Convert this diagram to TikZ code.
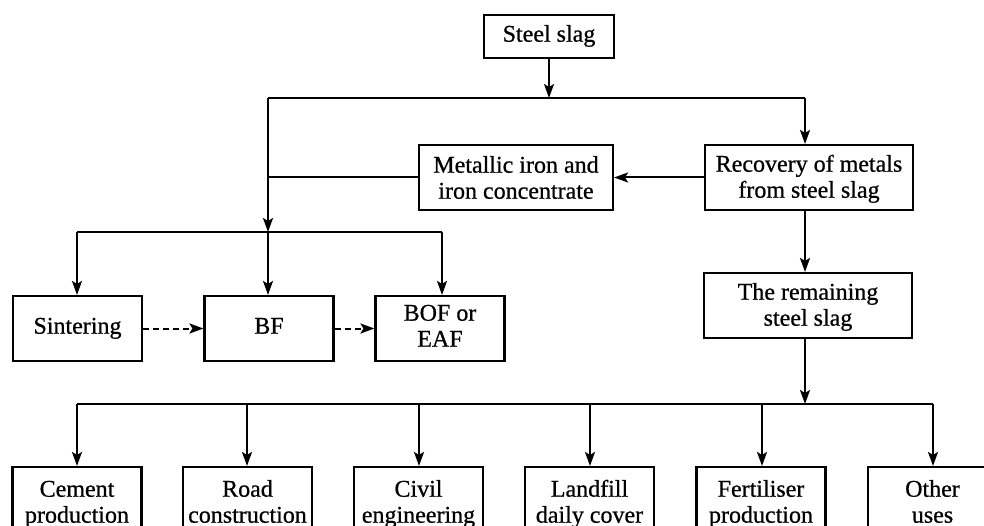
\documentclass[tikz,border=0pt]{standalone}
\usepackage{fontspec}
\setmainfont{Liberation Serif}
\newfontfamily\boxfont[FakeBold=0.7]{Liberation Serif}
\usetikzlibrary{arrows.meta}
\newcommand{\st}{\rule[-7.8pt]{0pt}{26pt}}
\begin{document}
\begin{tikzpicture}[x=1pt,y=-1pt,
 box/.style={draw,line width=2.1pt,align=center,inner sep=0pt,font=\boxfont\fontsize{24}{26}\selectfont},
 sbox/.style={box,minimum width=129pt,minimum height=65pt},
 bbox/.style={box,minimum width=129pt,minimum height=75pt},
 arr/.style={line width=2pt,-{Stealth[length=14pt,width=10pt,inset=3pt]}},
 ln/.style={line width=2pt},
 dsh/.style={arr,dash pattern=on 6pt off 4pt}]
\useasboundingbox (0,0) rectangle (984,526);
\clip (0,0) rectangle (984,526);
% nodes
\node[box,minimum width=130pt,minimum height=43pt] (slag) at (549,36.5) {Steel slag\st};
\node[box,minimum width=194pt,minimum height=65pt] (metal) at (516,177.5) {\raisebox{-3pt}{Metallic iron and}\st\\\raisebox{-3pt}{iron concentrate}\st};
\node[box,minimum width=208pt,minimum height=65pt] (recov) at (809,177.5) {\raisebox{-2pt}{Recovery of metals}\st\\\raisebox{-2pt}{from steel slag}\st};
\node[box,minimum width=208pt,minimum height=65pt] (remain) at (808,305.5) {\raisebox{-2pt}{The remaining}\st\\\raisebox{-2pt}{steel slag}\st};
\node[sbox] (sint) at (77.5,328.5) {Sintering\st};
\node[sbox] (bf) at (269,328.5) {BF\st};
\node[sbox] (bof) at (440,328.5) {BOF or\st\\EAF\st};
\node[bbox] (cem) at (77,504.5) {Cement\st\\production\st};
\node[bbox] (road) at (247.5,504.5) {Road\st\\construction\st};
\node[bbox] (civ) at (418.5,504.5) {Civil\st\\engineering\st};
\node[bbox] (land) at (589.5,504.5) {Landfill\st\\daily cover\st};
\node[bbox] (fert) at (761,504.5) {Fertiliser\st\\production\st};
\node[bbox] (oth) at (932.5,504.5) {Other\st\\uses\st};
% junction coordinates
\coordinate (j1) at (549,98);
\coordinate (tl) at (268,98);
\coordinate (tr) at (805,98);
\coordinate (lj) at (268,232);
\coordinate (ll) at (77,232);
\coordinate (lr) at (442,232);
\coordinate (bj) at (805,404);
\coordinate (bl) at (77,404);
\coordinate (br) at (933,404);
% top part
\draw[arr] (slag.south) -- (j1);
\draw[ln] (tl) -- (tr);
\draw[arr] (tr) -- (tr |- recov.north);
\draw[arr] (recov.west) -- (metal.east);
\draw[ln] (metal.west) -- (metal.west -| tl);
\draw[arr] (tl) -- (lj);
% left group
\draw[ln] (ll) -- (lr);
\draw[arr] (ll) -- (ll |- sint.north);
\draw[arr] (lj) -- (lj |- bf.north);
\draw[arr] (lr) -- (lr |- bof.north);
\draw[dsh] (sint.east) -- (bf.west);
\draw[dsh] (bf.east) -- (bof.west);
% right chain
\draw[arr] (recov.south -| tr) -- (remain.north -| tr);
\draw[arr] (remain.south -| tr) -- (bj);
% bottom bus
\draw[ln] (bl) -- (br);
\foreach \n/\xx in {cem/77,road/247,civ/419,land/590,fert/762,oth/933}
  \draw[arr] (\xx,404) -- (\xx,404 |- \n.north);
\end{tikzpicture}
\end{document}
